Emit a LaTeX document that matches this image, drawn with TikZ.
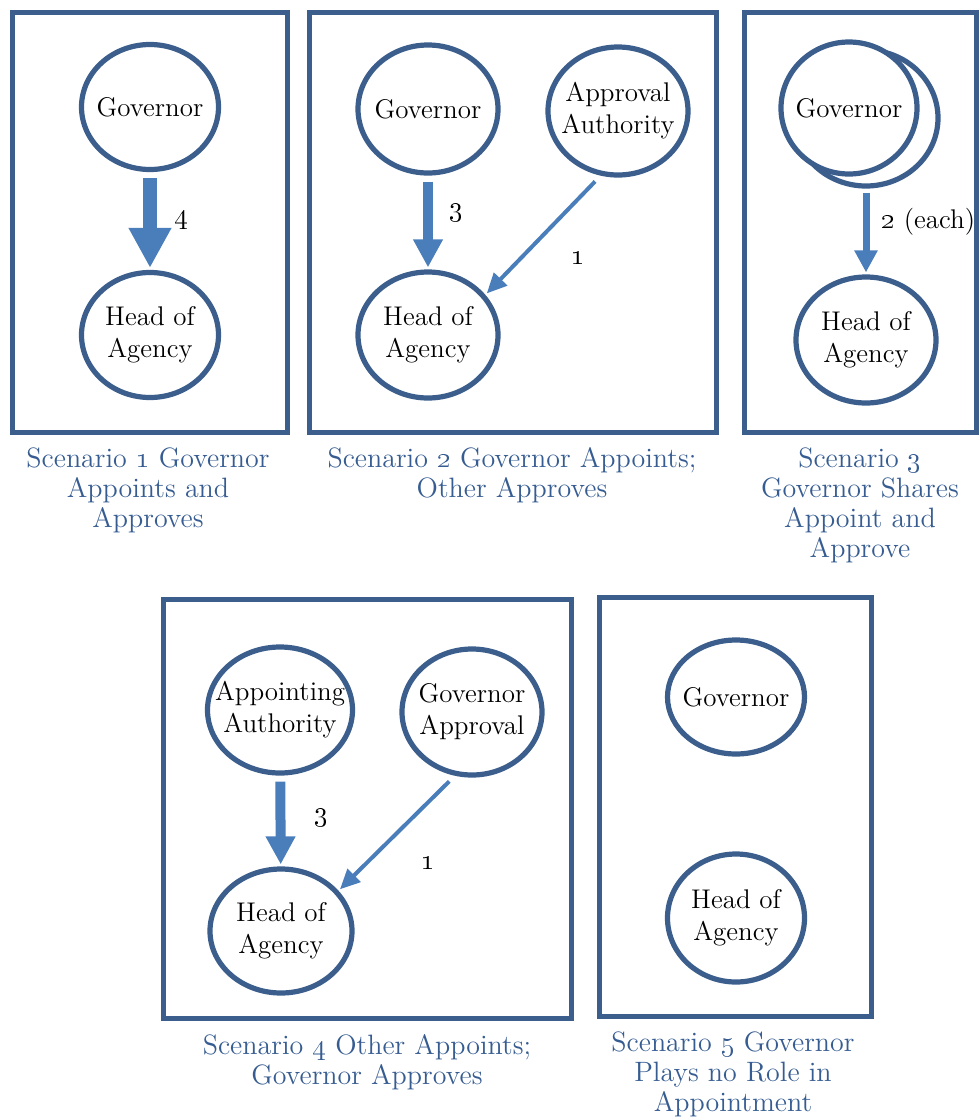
\documentclass[tikz,border=0pt]{standalone}
\usetikzlibrary{shapes.geometric,arrows.meta}
\definecolor{dkblue}{RGB}{59,94,140}
\definecolor{arrblue}{RGB}{74,126,187}
\definecolor{capblue}{RGB}{54,92,145}
\newcommand{\ntext}{\fontsize{13.5}{16}\selectfont}
\newcommand{\ctext}{\fontsize{14}{15}\selectfont}
\tikzset{
  box/.style={draw=dkblue, line width=2.5pt},
  ell/.style={ellipse, draw=dkblue, line width=2.6pt, fill=white, inner xsep=-12pt, inner ysep=-8pt, align=center, font=\ntext},
  captxt/.style={text=capblue, align=center, anchor=north, font=\ctext, inner sep=0pt},
  lbl/.style={font=\ntext, inner sep=0pt},
  bigarr/.style={draw=arrblue, line width=7pt, -{Triangle[width=20pt,length=20pt]}, shorten <=3pt, shorten >=1pt},
  midarr/.style={draw=arrblue, line width=5pt, -{Triangle[width=14pt,length=14pt]}, shorten <=3pt, shorten >=1pt},
  smarr/.style={draw=arrblue, line width=3.5pt, -{Triangle[width=11pt,length=11pt]}, shorten <=2pt, shorten >=1pt},
  thinarr/.style={draw=arrblue, line width=2pt, -{Triangle[width=9pt,length=10pt]}, shorten <=4pt, shorten >=1pt},
}
\begin{document}
\begin{tikzpicture}[x=0.5pt,y=-0.5pt]
\useasboundingbox (0,0) rectangle (979,1120);
% boxes
\draw[box] (12,12) rectangle (287,432);
\draw[box] (309,12) rectangle (716,432);
\draw[box] (744,12) rectangle (976,432);
\draw[box] (163,599) rectangle (571,1018);
\draw[box] (599,597) rectangle (871,1016);

% Scenario 1
\node[ell, minimum width=68.5pt, minimum height=62.5pt] (g1) at (150,107) {Governor};
\node[ell, minimum width=68.5pt, minimum height=62.5pt] (h1) at (150,335) {Head of\\Agency};
\draw[bigarr] (g1) -- (h1);
\node[lbl] (l1) at (181,220) {\oldstylenums{4}};
\node[captxt] (c1) at (148,447) {Scenario \oldstylenums{1} Governor\\Appoints and\\Approves};

% Scenario 2
\node[ell, minimum width=70pt, minimum height=64pt] (g2) at (428,109) {Governor};
\node[ell, minimum width=70pt, minimum height=64pt] (aa) at (618,111) {Approval\\Authority};
\node[ell, minimum width=70pt, minimum height=63pt] (h2) at (428,335) {Head of\\Agency};
\draw[midarr] (g2) -- (h2);
\draw[thinarr] (aa.255) -- (h2.35);
\node[lbl] (l2a) at (456,213) {\oldstylenums{3}};
\node[lbl] (l2b) at (578,258) {\textbf{\oldstylenums{1}}};
\node[captxt] (c2) at (512,447) {Scenario \oldstylenums{2} Governor Appoints;\\Other Approves};

% Scenario 3
\node[ell, minimum width=72pt, minimum height=68pt] (g3b) at (866,118) {};
\node[ell, minimum width=68pt, minimum height=66pt] (g3) at (849,108) {Governor};
\node[ell, minimum width=70pt, minimum height=63pt] (h3) at (866,340) {Head of\\Agency};
\draw[smarr] (g3b) -- (h3);
\node[lbl, anchor=west] (l3) at (881,222) {\oldstylenums{2} (each)};
\node[captxt] (c3) at (860,447) {Scenario \oldstylenums{3}\\Governor Shares\\Appoint and\\Approve};

% Scenario 4
\node[ell, minimum width=72.5pt, minimum height=63pt] (apa) at (280,710) {Appointing\\Authority};
\node[ell, minimum width=70pt, minimum height=63pt] (ga) at (472,712) {Governor\\Approval};
\node[ell, minimum width=71pt, minimum height=62pt] (h4) at (281,931) {Head of\\Agency};
\draw[midarr] (apa) -- (h4);
\draw[thinarr] (ga.255) -- (h4.35);
\node[lbl] (l4a) at (321,818) {\oldstylenums{3}};
\node[lbl] (l4b) at (428,863) {\textbf{\oldstylenums{1}}};
\node[captxt] (c4) at (367,1034) {Scenario \oldstylenums{4} Other Appoints;\\Governor Approves};

% Scenario 5
\node[ell, minimum width=68.5pt, minimum height=57pt] (g5) at (736,697) {Governor};
\node[ell, minimum width=68.5pt, minimum height=64pt] (h5) at (736,918) {Head of\\Agency};
\node[captxt] (c5) at (733,1031) {Scenario \oldstylenums{5} Governor\\Plays no Role in\\Appointment};
\end{tikzpicture}
\end{document}
